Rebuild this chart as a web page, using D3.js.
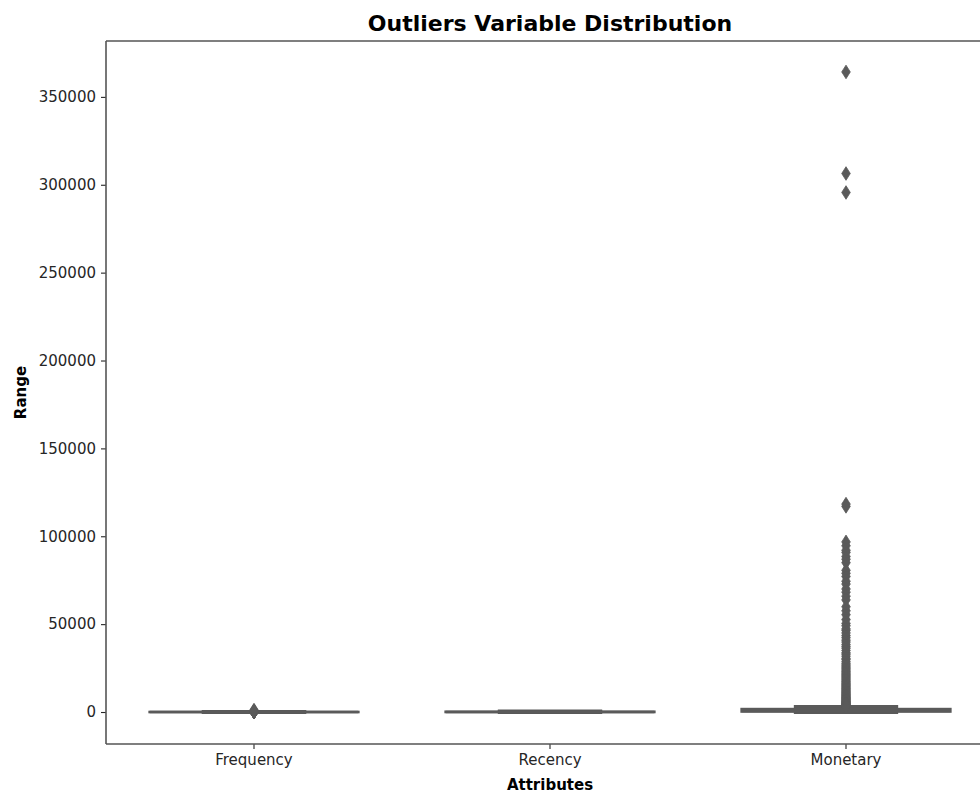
<!DOCTYPE html>
<html>
<head>
<meta charset="utf-8">
<script src="https://cdn.jsdelivr.net/npm/d3@7/dist/d3.min.js"></script>
<style>
  html, body { margin: 0; padding: 0; background: #fff; }
  svg { display: block; font-family: "DejaVu Sans", sans-serif; }
</style>
</head>
<body>
<svg id="chart" width="980" height="795"></svg>
<script>
// Attributes shown along the x axis
const categories = ["Frequency", "Recency", "Monetary"];

// Five-number summaries per attribute: whisker low, Q1, median, Q3, whisker high
const whiskerLow  = [1, 0, 0];
const q1          = [1, 16, 293];
const median      = [2, 50, 648];
const q3          = [5, 142, 1660];
const whiskerHigh = [11, 373, 2900];

// Points beyond the whiskers
const frequencyOutliers = [12, 15, 20, 30, 45, 60, 90, 130, 200, 250, 400, 700, 1100];
const recencyOutliers = [];
const monetaryOutliers = [
  364200, 306400, 295600, 118300, 117000,
  96800, 94600, 92000, 90800, 88500, 86900, 85000,
  80600, 78900, 77100, 74400, 72800, 70000, 68200, 65900, 63800,
  59900, 57600, 55400,
  52600, 50400, 49100, 47300, 46400, 45000, 43500, 42300, 40900, 39800,
  38400, 37300, 36300, 35000, 33700, 32900, 31800, 30500, 29800, 28600,
  27600, 26800, 26100, 25300, 24600, 23900, 23200, 22600, 21900, 21300,
  20700, 20100, 19500, 18900, 18300, 17700, 17200, 16600, 16100, 15600,
  15100, 14600, 14100, 13600, 13200, 12700, 12300, 11800, 11400, 11000,
  10600, 10200, 9800, 9500, 9100, 8800, 8400, 8100, 7800, 7500, 7200,
  6900, 6600, 6300, 6000, 5800, 5500, 5300, 5100, 4900, 4700, 4500,
  4300, 4100, 3900, 3600, 3300, 3000
];
const outliers = [frequencyOutliers, recencyOutliers, monetaryOutliers];

// Y axis ticks
const yTicks = [0, 50000, 100000, 150000, 200000, 250000, 300000, 350000];

const titleText = "Outliers Variable Distribution";
const xLabel = "Attributes";
const yLabel = "Range";

// ---- layout ----
const svg = d3.select("#chart");
const plot = { left: 106, right: 994, top: 41, bottom: 744 };
const boxColor = "#5a5a5a";
const textColor = "#262626";

const x = d3.scaleBand()
  .domain(categories)
  .range([plot.left, plot.right])
  .padding(0);

const y = d3.scaleLinear()
  .domain([-18200, 381800])
  .range([plot.bottom, plot.top]);

const boxW = x.step() * 0.705;
const capW = boxW * 0.5;

// clip marks to the axes area
svg.append("defs").append("clipPath").attr("id", "plotClip")
  .append("rect")
  .attr("x", plot.left).attr("y", plot.top)
  .attr("width", plot.right - plot.left).attr("height", plot.bottom - plot.top);

const marks = svg.append("g").attr("clip-path", "url(#plotClip)");

const stats = categories.map((c, i) => ({
  cat: c, lo: whiskerLow[i], q1: q1[i], med: median[i], q3: q3[i], hi: whiskerHigh[i], out: outliers[i]
}));

const groups = marks.selectAll("g.box").data(stats).enter().append("g").attr("class", "box");

groups.each(function (d) {
  const g = d3.select(this);
  const cx = x(d.cat) + x.bandwidth() / 2;
  const lw = 2.6;

  // whiskers
  g.append("line")
    .attr("x1", cx).attr("x2", cx)
    .attr("y1", y(d.q3)).attr("y2", y(d.hi))
    .attr("stroke", boxColor).attr("stroke-width", lw);
  g.append("line")
    .attr("x1", cx).attr("x2", cx)
    .attr("y1", y(d.q1)).attr("y2", y(d.lo))
    .attr("stroke", boxColor).attr("stroke-width", lw);

  // caps (drawn slightly heavier so they stand out over the box edge)
  [d.lo, d.hi].forEach(v => {
    g.append("line")
      .attr("x1", cx - capW / 2).attr("x2", cx + capW / 2)
      .attr("y1", y(v)).attr("y2", y(v))
      .attr("stroke", boxColor).attr("stroke-width", lw + 1.2);
  });

  // box
  g.append("rect")
    .attr("x", cx - boxW / 2)
    .attr("y", y(d.q3))
    .attr("width", boxW)
    .attr("height", Math.max(0, y(d.q1) - y(d.q3)))
    .attr("fill", boxColor)
    .attr("stroke", boxColor)
    .attr("stroke-width", lw);

  // median
  g.append("line")
    .attr("x1", cx - boxW / 2).attr("x2", cx + boxW / 2)
    .attr("y1", y(d.med)).attr("y2", y(d.med))
    .attr("stroke", boxColor).attr("stroke-width", lw);

  // outlier diamonds
  const dw = 4.3, dh = 6.8;
  g.selectAll("path.flier").data(d.out).enter().append("path")
    .attr("class", "flier")
    .attr("d", v => {
      const py = y(v);
      return `M${cx},${py - dh}L${cx + dw},${py}L${cx},${py + dh}L${cx - dw},${py}Z`;
    })
    .attr("fill", boxColor)
    .attr("stroke", boxColor)
    .attr("stroke-width", 0.8);
});

// ---- axes ----
const yAxis = d3.axisLeft(y).tickValues(yTicks).tickSize(5).tickPadding(5).tickFormat(d3.format("d"));
const yG = svg.append("g").attr("transform", `translate(${plot.left},0)`).call(yAxis);
yG.select(".domain").remove();
yG.selectAll(".tick line").attr("stroke", textColor).attr("stroke-width", 1.1);
yG.selectAll(".tick text").attr("fill", textColor).style("font-size", "15px")
  .style("font-family", "DejaVu Sans, sans-serif");

const xAxis = d3.axisBottom(x).tickSize(5).tickPadding(5);
const xG = svg.append("g").attr("transform", `translate(0,${plot.bottom})`).call(xAxis);
xG.select(".domain").remove();
xG.selectAll(".tick line").attr("stroke", textColor).attr("stroke-width", 1.1);
xG.selectAll(".tick text").attr("fill", textColor).style("font-size", "15px")
  .style("font-family", "DejaVu Sans, sans-serif");

// spines
const spine = svg.append("g").attr("fill", "none").attr("stroke", "#555").attr("stroke-width", 1.6);
spine.append("line").attr("x1", plot.left).attr("x2", plot.left).attr("y1", plot.top).attr("y2", plot.bottom);
spine.append("line").attr("x1", plot.left).attr("x2", plot.right).attr("y1", plot.bottom).attr("y2", plot.bottom);
spine.append("line").attr("x1", plot.left).attr("x2", plot.right).attr("y1", plot.top).attr("y2", plot.top);
spine.append("line").attr("x1", plot.right).attr("x2", plot.right).attr("y1", plot.top).attr("y2", plot.bottom);

// ---- labels ----
const cxPlot = (plot.left + plot.right) / 2;
svg.append("text")
  .attr("x", cxPlot).attr("y", 31)
  .attr("text-anchor", "middle")
  .attr("fill", "#000")
  .style("font-size", "22px").style("font-weight", "bold")
  .text(titleText);

svg.append("text")
  .attr("x", cxPlot).attr("y", 790)
  .attr("text-anchor", "middle")
  .attr("fill", "#000")
  .style("font-size", "15px").style("font-weight", "bold")
  .text(xLabel);

svg.append("text")
  .attr("transform", `translate(26,${(plot.top + plot.bottom) / 2}) rotate(-90)`)
  .attr("text-anchor", "middle")
  .attr("fill", "#000")
  .style("font-size", "15px").style("font-weight", "bold")
  .text(yLabel);
</script>
</body>
</html>
